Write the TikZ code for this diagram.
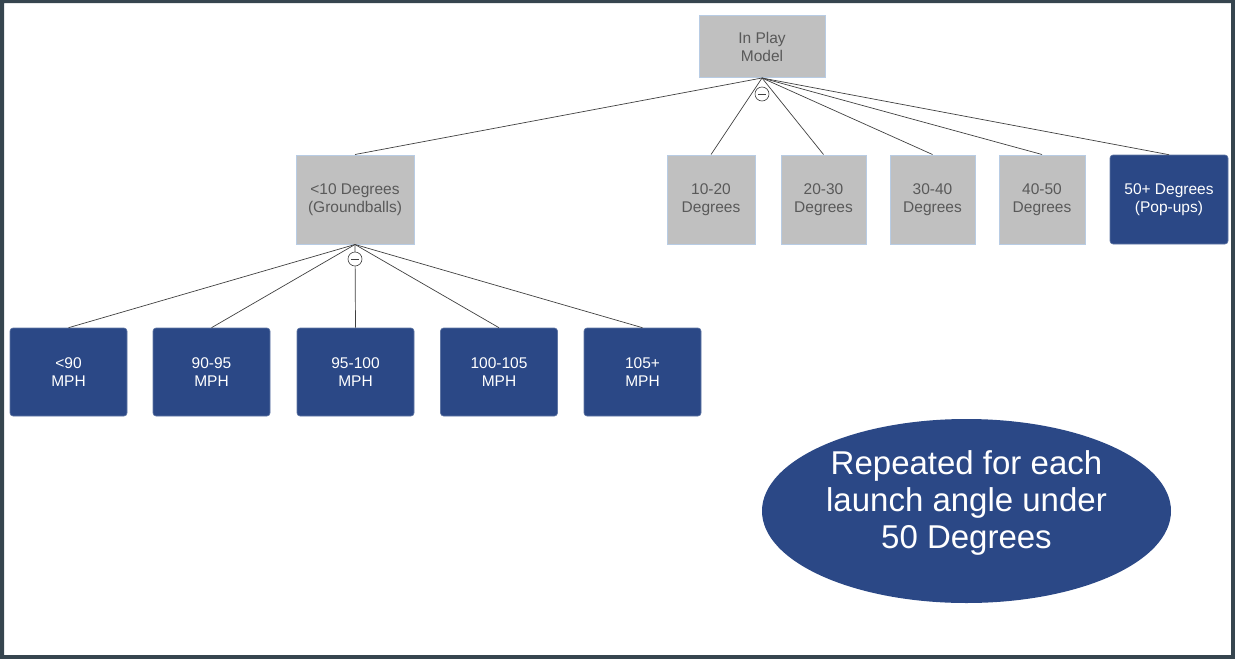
\documentclass[tikz,border=0pt]{standalone}
\usepackage{xcolor}
\usepackage{fontspec}
\setmainfont{Liberation Sans}
\usepackage{tikz}
\usetikzlibrary{positioning,shapes.geometric}
\definecolor{FrameSlate}{HTML}{36454F}
\definecolor{BoxGray}{HTML}{C0C0C0}
\definecolor{BoxEdge}{HTML}{B8CCE4}
\definecolor{TextGray}{HTML}{595959}
\definecolor{PlayBlue}{HTML}{2B4886}
\definecolor{LinkGray}{HTML}{404040}

\begin{document}
\begin{tikzpicture}[x=1pt,y=-1pt]
\tikzstyle{graybox}=[rectangle,draw=BoxEdge,line width=1pt,fill=BoxGray,text=TextGray,align=center,inner sep=0pt,minimum height=89pt,font=\fontsize{15.5}{18}\selectfont]
\tikzstyle{bluebox}=[rectangle,rounded corners=3pt,draw=PlayBlue!75!white,line width=0.6pt,fill=PlayBlue,text=white,align=center,inner sep=0pt,minimum width=117pt,minimum height=88pt,font=\fontsize{15.5}{18}\selectfont]
\tikzstyle{link}=[draw=LinkGray,line width=0.7pt]
\tikzstyle{toggle}=[circle,draw=LinkGray,fill=white,line width=0.6pt,minimum size=14pt,inner sep=0pt]
\useasboundingbox (0,0) rectangle (1235,659);
\fill[FrameSlate,even odd rule] (0,0) rectangle (1235,659) (4,3) rectangle (1231,655);
% root
\node[graybox,minimum width=126pt,minimum height=62pt] (root) at (762,46.5) {In Play\\ Model};
% launch angles
\node[graybox,minimum width=118pt] (lt10) at (355,199.5) {<10 Degrees\\(Groundballs)};
\node[graybox,minimum width=88pt] (d1020) at (711,199.5) {10-20\\Degrees};
\node[graybox,minimum width=85pt] (d2030) at (823.5,199.5) {20-30\\Degrees};
\node[graybox,minimum width=85pt] (d3040) at (932.5,199.5) {30-40\\Degrees};
\node[graybox,minimum width=86pt] (d4050) at (1042,199.5) {40-50\\Degrees};
\node[bluebox,minimum width=118pt,minimum height=89pt] (d50) at (1169,199.5) {50+ Degrees\\(Pop-ups)};
% exit speeds
\node[bluebox] (mph1) at (68.5,372) {<90\\MPH};
\node[bluebox] (mph2) at (211.5,372) {90-95\\MPH};
\node[bluebox] (mph3) at (355.5,372) {95-100\\MPH};
\node[bluebox] (mph4) at (499,372) {100-105\\MPH};
\node[bluebox] (mph5) at (642.5,372) {105+\\MPH};
% note
\node[ellipse,fill=PlayBlue,minimum width=409pt,minimum height=184pt,inner sep=0pt] (note) at (966.5,511) {};
\node[text=white,align=center,inner sep=0pt,font=\fontsize{33}{37}\selectfont] (notetext) at ([yshift=8pt]note.center) {Repeated for each\\launch angle under\\ 50 Degrees};
% links
\draw[link] (root.south) -- (lt10.north);
\draw[link] (root.south) -- (d1020.north);
\draw[link] (root.south) -- (d2030.north);
\draw[link] (root.south) -- (d3040.north);
\draw[link] (root.south) -- (d4050.north);
\draw[link] (root.south) -- (d50.north);
\draw[link] (lt10.south) -- (mph1.north);
\draw[link] (lt10.south) -- (mph2.north);
\draw[link] (lt10.south) -- (mph3.north);
\draw[link] (lt10.south) -- (mph4.north);
\draw[link] (lt10.south) -- (mph5.north);
% collapse toggles
\node[toggle] (tg1) at (762,94) {};
\draw[LinkGray,line width=0.9pt] ([xshift=3.5pt]tg1.west) -- ([xshift=-3.5pt]tg1.east);
\node[toggle] (tg2) at (355,259) {};
\draw[LinkGray,line width=0.9pt] ([xshift=3.5pt]tg2.west) -- ([xshift=-3.5pt]tg2.east);
\end{tikzpicture}
\end{document}
